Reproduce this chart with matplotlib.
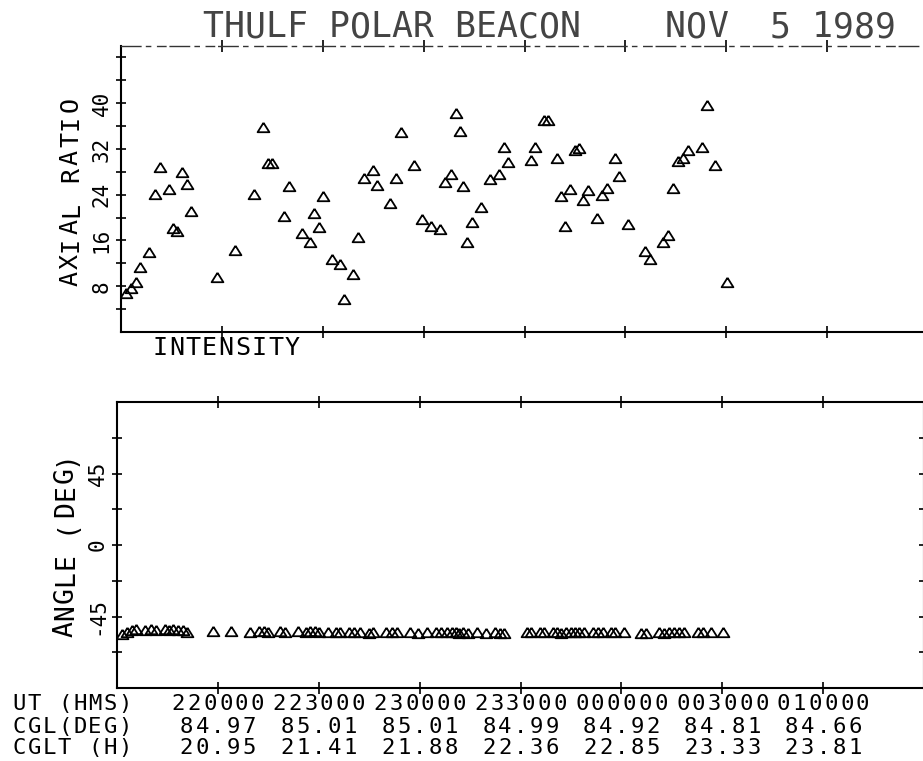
import matplotlib
matplotlib.use('Agg')
import matplotlib.pyplot as plt
from matplotlib.transforms import IdentityTransform
import numpy as np

plt.rcParams['font.family'] = ['DejaVu Sans Mono', 'DejaVu Sans']

# UT in decimal hours (values past 24 are after midnight)
ut_hours = [
    21.525, 21.550, 21.574, 21.594, 21.640, 21.669, 21.693, 21.736, 21.756, 21.778, 21.802, 21.826,
    21.847, 21.974, 22.067, 22.158, 22.205, 22.230, 22.250, 22.309, 22.331, 22.396, 22.435, 22.457,
    22.480, 22.503, 22.546, 22.587, 22.607, 22.651, 22.676, 22.706, 22.751, 22.770, 22.833, 22.862,
    22.888, 22.952, 22.993, 23.037, 23.083, 23.107, 23.134, 23.159, 23.180, 23.197, 23.216, 23.240,
    23.284, 23.329, 23.374, 23.397, 23.417, 23.531, 23.554, 23.598, 23.618, 23.661, 23.682, 23.701,
    23.727, 23.752, 23.772, 23.790, 23.815, 23.858, 23.883, 23.907, 23.950, 23.970, 24.015, 24.097,
    24.122, 24.188, 24.213, 24.238, 24.262, 24.284, 24.309, 24.378, 24.403, 24.444, 24.502,
]
axial_ratio = [
    6.8, 7.7, 8.7, 11.4, 13.9, 24.2, 28.9, 25.0, 18.1, 17.6, 28.0, 25.9,
    21.1, 9.7, 14.4, 24.2, 35.9, 29.5, 29.5, 20.3, 25.6, 17.3, 15.7, 20.8,
    18.3, 23.8, 12.8, 11.9, 5.7, 10.2, 16.6, 26.9, 28.4, 25.7, 22.5, 26.9,
    35.0, 29.2, 19.7, 18.5, 18.0, 26.3, 27.7, 38.3, 35.2, 25.6, 15.8, 19.2,
    21.9, 26.8, 27.7, 32.3, 29.7, 30.0, 32.4, 37.0, 37.0, 30.4, 23.8, 18.6,
    25.0, 31.9, 32.1, 23.0, 24.8, 19.9, 24.0, 25.2, 30.5, 27.3, 18.9, 14.1,
    12.7, 15.7, 17.0, 25.1, 29.9, 30.5, 31.8, 32.4, 39.7, 29.2, 8.8,
]
angle_deg = [
    -56.0, -54.5, -53.5, -53.0, -53.5, -53.0, -53.5, -53.0, -53.5, -53.0, -53.5, -53.5,
    -54.5, -54.0, -54.0, -54.5, -54.0, -54.0, -54.5, -54.0, -54.5, -54.0, -54.5, -54.0,
    -54.0, -54.5, -54.5, -55.0, -55.0, -54.5, -55.0, -54.5, -55.5, -55.0, -54.5, -55.0,
    -55.0, -54.5, -55.5, -55.0, -55.0, -54.5, -55.0, -55.0, -55.0, -55.5, -55.0, -55.5,
    -55.0, -55.5, -55.0, -55.5, -55.5, -55.0, -55.0, -54.5, -55.0, -55.0, -55.0, -55.5,
    -55.0, -55.0, -55.0, -55.0, -54.5, -55.0, -55.0, -54.5, -55.0, -54.5, -55.0, -55.5,
    -55.5, -55.0, -55.5, -55.0, -55.0, -54.5, -55.0, -54.5, -55.0, -54.5, -54.5,
]

ut_ticks = [22.0, 22.5, 23.0, 23.5, 24.0, 24.5, 25.0]
ut_labels = ['220000', '223000', '230000', '233000', '000000', '003000', '010000']
cgl_labels = ['84.97', '85.01', '85.01', '84.99', '84.92', '84.81', '84.66']
cglt_labels = ['20.95', '21.41', '21.88', '22.36', '22.85', '23.33', '23.81']

ratio_ticks = list(range(4, 49, 4))
ratio_labels = [str(v) if v % 8 == 0 and v <= 40 else '' for v in ratio_ticks]
angle_ticks = [-67.5, -45, -22.5, 0, 22.5, 45, 67.5]
angle_labels = ['', '-45', '', '0', '', '45', '']

W, H = 923, 761
fig = plt.figure(figsize=(W / 100, H / 100), dpi=100)


def px_axes(left, top, right, bottom):
    return fig.add_axes([left / W, 1 - bottom / H, (right - left) / W, (bottom - top) / H])


def plotter_text(x, y, s, pitch, size, rot=0, **kw):
    # one glyph per fixed-width cell, like a pen plotter; x, y in pixels from top-left
    for i, ch in enumerate(s):
        if ch == ' ':
            continue
        if rot:
            pos = (x, H - y + i * pitch)
        else:
            pos = (x + i * pitch, H - y)
        fig.text(pos[0], pos[1], ch, transform=IdentityTransform(), rotation=rot,
                 rotation_mode='anchor', ha='center', va='baseline', fontsize=size, **kw)


def centred_text(cx, y, s, pitch, size):
    plotter_text(cx - (len(s) - 1) * pitch / 2, y, s, pitch, size)


tri = [(0, 0.8), (-1, -0.8), (1, -0.8), (0, 0.8)]

ax1 = px_axes(121, 46, 928, 332)
ax2 = px_axes(117, 402, 924, 688)

ax1.plot(ut_hours, axial_ratio, ls='none', marker=tri, ms=8.5, mfc='none', mec='black', mew=1.3)
ax2.plot(ut_hours, angle_deg, ls='none', marker=tri, ms=8.5, mfc='none', mec='black', mew=1.3)

ax1.set_ylim(0, 50)
ax2.set_ylim(-90, 90)
ax1.set_yticks(ratio_ticks, ratio_labels)
ax2.set_yticks(angle_ticks, angle_labels)

for ax in (ax1, ax2):
    ax.set_xlim(21.5, 25.5)
    ax.set_xticks(ut_ticks)
    ax.tick_params(axis='x', direction='inout', length=9, width=1.2, top=True, bottom=True,
                   labelbottom=False)
    ax.tick_params(axis='y', direction='inout', length=7.5, width=1.2, left=True, right=True,
                   labelsize=15, labelrotation=90, pad=3)
    for lab in ax.get_yticklabels():
        lab.set_verticalalignment('center')
    for sp in ax.spines.values():
        sp.set_linewidth(1.5)

# faint, broken frame line along the top of the upper panel
ax1.spines['top'].set_linestyle((0, (14, 4, 3, 5, 6, 3)))
ax1.spines['top'].set_linewidth(1.0)
ax1.spines['top'].set_color('#333333')

plotter_text(213, 37, 'THULF POLAR BEACON    NOV  5 1989', 21, 25, color='#444444')
plotter_text(78, 279, 'AXIAL RATIO', 17.4, 18, rot=90)
plotter_text(73, 629, 'ANGLE (DEG)', 17.1, 19, rot=90)
plotter_text(160, 355, 'INTENSITY', 16.5, 18)

plotter_text(19, 710, 'UT (HMS)', 15.2, 16)
plotter_text(19, 733, 'CGL(DEG)', 15.2, 16)
plotter_text(19, 754, 'CGLT (H)', 15.2, 16)

for t, a, b, c in zip(ut_ticks, ut_labels, cgl_labels, cglt_labels):
    cx = ax2.transData.transform((t, 0))[0]
    centred_text(cx, 710, a, 15.8, 16)
    centred_text(cx, 733, b, 15.8, 16)
    centred_text(cx, 754, c, 15.8, 16)

fig.savefig('out.png', dpi=100)
